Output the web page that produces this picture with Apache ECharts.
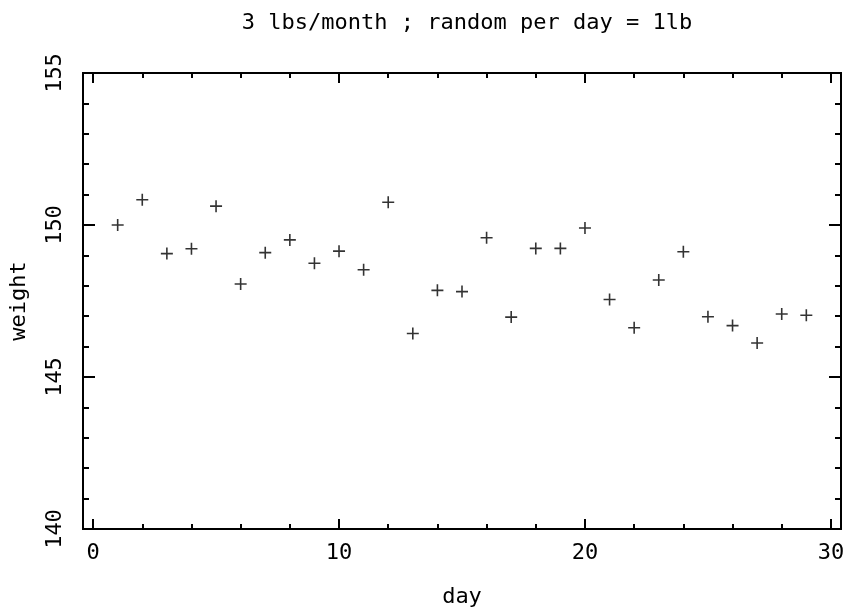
<!DOCTYPE html>
<html>
<head>
<meta charset="utf-8">
<script src="https://cdn.jsdelivr.net/npm/echarts@6/dist/echarts.min.js"></script>
<style>
  html, body { margin: 0; padding: 0; background: #fff; }
  #chart { width: 848px; height: 613px; }
</style>
</head>
<body>
<div id="chart"></div>
<script>
var days = [1,2,3,4,5,6,7,8,9,10,11,12,13,14,15,16,17,18,19,20,21,22,23,24,25,26,27,28,29];
var weights = [150.0,150.83,149.06,149.22,150.62,148.06,149.09,149.51,148.74,149.14,
  148.53,150.75,146.43,147.85,147.81,149.58,146.97,149.23,149.23,149.90,
  147.55,146.62,148.19,149.12,146.98,146.69,146.12,147.07,147.03];

var xMajor = [0,10,20,30];
var xMinor = [2,4,6,8,12,14,16,18,22,24,26,28];
var xMin = -0.41, xMax = 30.41;
var yMin = 140, yMax = 155;

var font = 'DejaVu Sans Mono';
// plus marker, filled as two thin bars
var plus = 'path://M0,5.2H12V6.8H0Z M5.2,0H6.8V12H5.2Z';

var points = days.map(function(d, i){ return [d, weights[i]]; });

function xAx(pos, ticks, len, withLabel){
  return {
    type: 'value', position: pos, min: xMin, max: xMax,
    axisLine: { show: true, onZero: false, lineStyle: { color: '#000', width: 2 } },
    axisTick: { show: true, inside: true, length: len, customValues: ticks, lineStyle: { color: '#000', width: 2 } },
    axisLabel: withLabel ? { show: true, customValues: xMajor, color: '#000', fontFamily: font, fontSize: 22, margin: 13 } : { show: false },
    splitLine: { show: false }
  };
}

function yAx(pos, withLabel){
  return {
    type: 'value', position: pos, min: yMin, max: yMax, interval: 5,
    axisLine: { show: true, onZero: false, lineStyle: { color: '#000', width: 2 } },
    axisTick: { show: true, inside: true, length: 12, lineStyle: { color: '#000', width: 2 } },
    minorTick: { show: true, splitNumber: 5, length: 6, lineStyle: { color: '#000', width: 2 } },
    axisLabel: withLabel ? { show: true, rotate: 90, color: '#000', fontFamily: font, fontSize: 22, margin: 17 } : { show: false },
    splitLine: { show: false },
    minorSplitLine: { show: false }
  };
}

var chart = echarts.init(document.getElementById('chart'));

var xBottom = xAx('bottom', xMajor, 10, true);
xBottom.name = 'day';
xBottom.nameLocation = 'middle';
xBottom.nameGap = 57;
xBottom.nameTextStyle = { color: '#000', fontFamily: font, fontSize: 22 };

var yLeft = yAx('left', true);
yLeft.name = 'weight';
yLeft.nameLocation = 'middle';
yLeft.nameGap = 53;
yLeft.nameTextStyle = { color: '#000', fontFamily: font, fontSize: 22 };

chart.setOption({
  animation: false,
  backgroundColor: '#fff',
  title: {
    text: '3 lbs/month ; random per day = 1lb',
    left: 462,
    textAlign: 'center',
    top: 7,
    textStyle: { color: '#000', fontFamily: font, fontSize: 22, fontWeight: 'normal' }
  },
  grid: { left: 83, right: 7, top: 73, bottom: 78 },
  xAxis: [
    xBottom,
    xAx('bottom', xMinor, 5, false),
    xAx('top', xMajor, 10, false),
    xAx('top', xMinor, 5, false)
  ],
  yAxis: [
    yLeft,
    yAx('right', false)
  ],
  series: [{
    type: 'scatter',
    xAxisIndex: 0,
    yAxisIndex: 0,
    data: points,
    symbol: plus,
    symbolSize: 12,
    itemStyle: { color: '#000' }
  }]
});
</script>
</body>
</html>
